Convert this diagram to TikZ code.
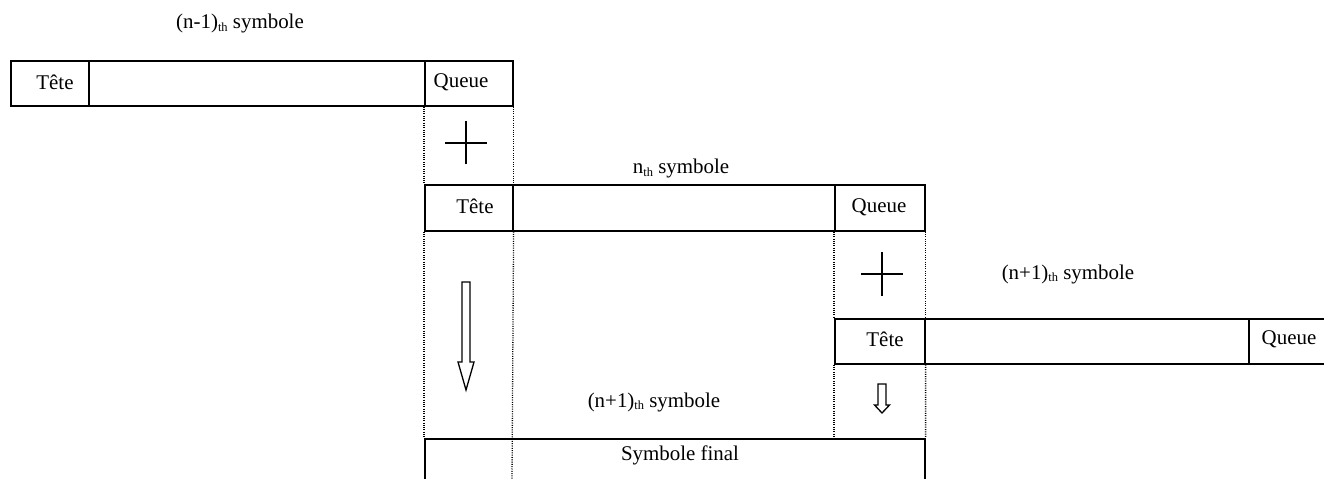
\documentclass[tikz,border=0pt]{standalone}
\usepackage{fontspec}
\setmainfont{Liberation Serif}
\newcommand{\thsub}{\raisebox{-2.5bp}{\fontsize{12.5}{13}\selectfont th}}
\begin{document}
\begin{tikzpicture}[x=1bp,y=-1bp,
  cell/.style={draw, line width=1.6bp, anchor=north west, inner sep=0pt, minimum height=45bp},
  lbl/.style={inner sep=0pt, font=\fontsize{21}{25}\selectfont},
  dotline/.style={line width=1.3bp, dash pattern=on 1bp off 1.3bp},
  plusmark/.style={line width=1.6bp},
  blockarrow/.style={line width=1.3bp, line join=miter}]
\useasboundingbox (0,0) rectangle (1324,479);
% symbol n-1
\node[cell, minimum width=78bp] (A1) at (10,60) {};
\node[cell, minimum width=336bp] (B1) at (88,60) {};
\node[cell, minimum width=88bp] (C1) at (424,60) {};
% symbol n
\node[cell, minimum width=88bp, minimum height=46bp] (A2) at (424,184) {};
\node[cell, minimum width=322bp, minimum height=46bp] (B2) at (512,184) {};
\node[cell, minimum width=90bp, minimum height=46bp] (C2) at (834,184) {};
% symbol n+1
\node[cell, minimum width=90bp] (A3) at (834,318) {};
\node[cell, minimum width=324bp] (B3) at (924,318) {};
\node[cell, minimum width=80bp] (C3) at (1248,318) {};
% final symbol
\node[cell, minimum width=500bp, minimum height=50bp] (F) at (424,438) {};
% texts
\node[lbl] (t1) at (55,82) {Tête};
\node[lbl] (q1) at (461,82) {Queue};
\node[lbl] (t2) at (475,206) {Tête};
\node[lbl] (q2) at (879,207) {Queue};
\node[lbl] (t3) at (885,339) {Tête};
\node[lbl] (q3) at (1289,339) {Queue};
\node[lbl] (s1) at (240,24) {(n-1)\thsub\ symbole};
\node[lbl] (s2) at (681,169) {n\thsub\ symbole};
\node[lbl] (s3) at (1068,274) {(n+1)\thsub\ symbole};
\node[lbl] (s4) at (654,402) {(n+1)\thsub\ symbole};
\node[lbl] (sf) at (680,455) {Symbole final};
% dotted guides
\coordinate (d1) at (512,479);
\coordinate (d2) at (834,440);
\draw[dotline] (C1.south west) -- (A2.north west);
\draw[dotline] (C1.south east) -- (A2.north east);
\draw[dotline] (A2.south west) -- (F.north west);
\draw[dotline] (A2.south east) -- (d1);
\draw[dotline] (C2.south west) -- (A3.north west);
\draw[dotline] (C2.south east) -- (A3.north east);
\draw[dotline] (A3.south west) -- (d2);
\draw[dotline] (A3.south east) -- (F.north east);
% plus signs
\coordinate (p1) at (466,143);
\coordinate (p2) at (882,274);
\draw[plusmark] ([xshift=-21bp]p1) -- ([xshift=21bp]p1) ([yshift=-21.5bp]p1) -- ([yshift=21.5bp]p1);
\draw[plusmark] ([xshift=-21bp]p2) -- ([xshift=21bp]p2) ([yshift=-21.5bp]p2) -- ([yshift=21.5bp]p2);
% hollow arrows
\draw[blockarrow] (462,282) -- (470,282) -- (470,362) -- (474,362) -- (466,390) -- (458,362) -- (462,362) -- cycle;
\draw[blockarrow] (878,384) -- (886,384) -- (886,405) -- (889.5,405) -- (882,413) -- (874.5,405) -- (878,405) -- cycle;
\end{tikzpicture}
\end{document}
